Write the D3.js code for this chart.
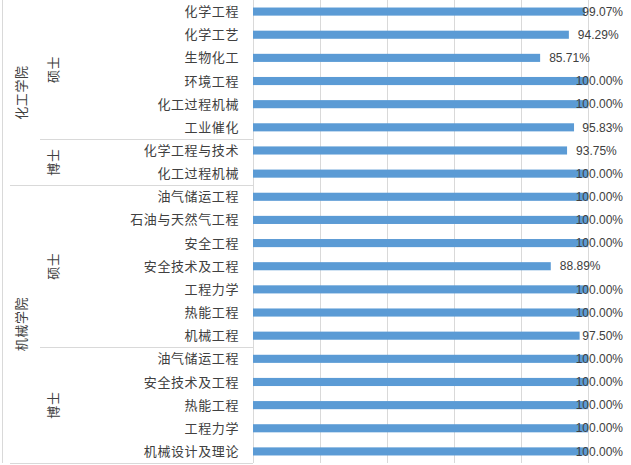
<!DOCTYPE html>
<html>
<head>
<meta charset="utf-8">
<script src="https://cdn.jsdelivr.net/npm/d3@7"></script>
<style>
  body { margin: 0; background: #fff; }
  svg { display: block; }
  text { font-family: "Noto Sans CJK SC", "Liberation Sans", sans-serif; fill: #404040; }
</style>
</head>
<body>
<svg id="chart" width="631" height="465"></svg>
<script>
// rows, top to bottom
var majors = ["化学工程", "化学工艺", "生物化工", "环境工程", "化工过程机械", "工业催化",
    "化学工程与技术", "化工过程机械",
    "油气储运工程", "石油与天然气工程", "安全工程", "安全技术及工程", "工程力学", "热能工程", "机械工程",
    "油气储运工程", "安全技术及工程", "热能工程", "工程力学", "机械设计及理论"];
var rates = [0.9907, 0.9429, 0.8571, 1, 1, 0.9583,
    0.9375, 1,
    1, 1, 1, 0.8889, 1, 1, 0.975,
    1, 1, 1, 1, 1];

// degree groups: [label, first row, last row]
var degrees = [["硕士", 0, 5], ["博士", 6, 7], ["硕士", 8, 14], ["博士", 15, 19]];
var colleges = [["化工学院", 0, 7], ["机械学院", 8, 19]];
var gridTicks = [0, 0.2, 0.4, 0.6, 0.8, 1.0, 1.2];

var svg = d3.select("#chart");
var x0 = 253, xRight = 623;

var x = d3.scaleLinear().domain([0, 1]).range([x0, 588]);
var y = d3.scaleBand()
    .domain(d3.range(majors.length))
    .range([0, 463])
    .paddingInner(0.65)
    .paddingOuter(0.325);

// top edge of row i (i == row count gives the bottom of the plot)
function rowTop(i) {
    return y.range()[0] + i * y.step();
}

// gridlines
svg.append("g").selectAll("line")
    .data(gridTicks)
    .enter().append("line")
    .attr("x1", function (d) { return Math.round(x(d)) + 0.5; })
    .attr("x2", function (d) { return Math.round(x(d)) + 0.5; })
    .attr("y1", 0).attr("y2", 463)
    .attr("stroke", "#d9d9d9");

// left border
svg.append("line")
    .attr("x1", 2.5).attr("x2", 2.5).attr("y1", 0).attr("y2", 463)
    .attr("stroke", "#d9d9d9");

// separator lines between groups
degrees.slice(0, -1).forEach(function (g) {
    var yy = Math.round(rowTop(g[2] + 1)) + 0.5;
    var isCollegeEnd = colleges.some(function (c) { return c[2] == g[2]; });
    svg.append("line")
        .attr("x1", isCollegeEnd ? 10 : 40).attr("x2", x0)
        .attr("y1", yy).attr("y2", yy)
        .attr("stroke", "#d9d9d9");
});
svg.append("line")
    .attr("x1", 10).attr("x2", x0).attr("y1", 463.5).attr("y2", 463.5)
    .attr("stroke", "#d9d9d9");

// bars
svg.append("g").selectAll("rect")
    .data(rates)
    .enter().append("rect")
    .attr("x", x0)
    .attr("y", function (d, i) { return y(i); })
    .attr("width", function (d) { return x(d) - x0; })
    .attr("height", y.bandwidth())
    .attr("fill", "#5b9bd5");

// category labels
svg.append("g").selectAll("text")
    .data(majors)
    .enter().append("text")
    .attr("x", 239)
    .attr("y", function (d, i) { return y(i) + y.bandwidth() / 2; })
    .attr("dy", "0.35em")
    .attr("text-anchor", "end")
    .style("font-size", "13px")
    .style("letter-spacing", "0.6px")
    .text(function (d) { return d; });

// value labels
svg.append("g").selectAll("text")
    .data(rates)
    .enter().append("text")
    .attr("y", function (d, i) { return y(i) + y.bandwidth() / 2; })
    .attr("dy", "0.35em")
    .style("font-family", "'Liberation Sans', Arial, sans-serif")
    .style("font-size", "12px")
    .text(function (d) { return (d * 100).toFixed(2) + "%"; })
    .attr("x", function (d) {
        var w = this.getComputedTextLength();
        return Math.min(x(d) + 9, xRight - w);
    });

// group labels (rotated)
function groupLabel(g, cx) {
    var cy = (rowTop(g[1]) + rowTop(g[2] + 1)) / 2;
    svg.append("text")
        .attr("transform", "translate(" + cx + "," + cy + ") rotate(-90)")
        .attr("text-anchor", "middle")
        .attr("dy", "0.35em")
        .style("font-size", "13px")
        .style("letter-spacing", "0.6px")
        .text(g[0]);
}
degrees.forEach(function (g) { groupLabel(g, 53); });
colleges.forEach(function (g) { groupLabel(g, 21); });
</script>
</body>
</html>
